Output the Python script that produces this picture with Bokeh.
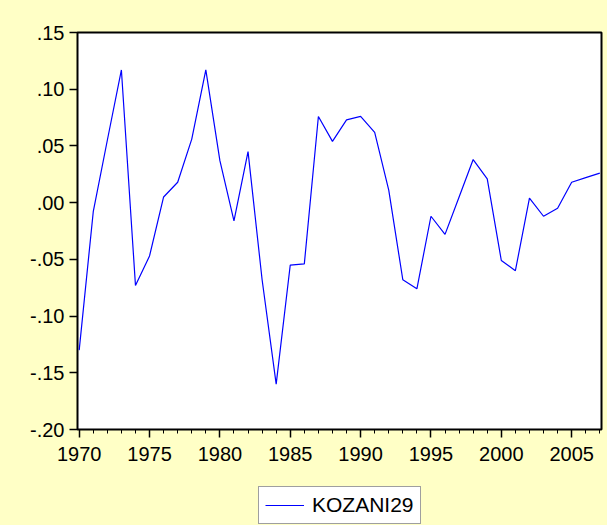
from bokeh.plotting import figure
from bokeh.layouts import column
from bokeh.models import Range1d, FixedTicker, Legend, LegendItem
from bokeh.embed import file_html
from bokeh.resources import INLINE

# ---- data ----
years = list(range(1970, 2008))
kozani29 = [-0.130, -0.008, 0.055, 0.117, -0.073, -0.047, 0.005, 0.018, 0.056, 0.117,
            0.037, -0.016, 0.045, -0.068, -0.160, -0.055, -0.054, 0.076, 0.054, 0.073,
            0.076, 0.062, 0.011, -0.068, -0.076, -0.012, -0.028, 0.005, 0.038, 0.021,
            -0.051, -0.060, 0.004, -0.012, -0.005, 0.018, 0.022, 0.026]
series_name = "KOZANI29"
xtick_values = [1970, 1975, 1980, 1985, 1990, 1995, 2000, 2005]
xminor_values = list(range(1970, 2008))
ytick_values = [-0.2, -0.15, -0.1, -0.05, 0.0, 0.05, 0.1, 0.15]
ytick_labels = ["-.20", "-.15", "-.10", "-.05", ".00", ".05", ".10", ".15"]

FONT = "Liberation Sans"
BG = "#FFFFC6"
LINE_COLOR = "#0000FF"

p = figure(width=607, height=470, output_backend="svg", toolbar_location=None,
           x_range=Range1d(1969.88, 2007.12), y_range=Range1d(-0.2, 0.15),
           min_border_left=77, min_border_right=6, min_border_top=32, min_border_bottom=41)

p.border_fill_color = BG
p.background_fill_color = "white"
p.outline_line_color = "black"
p.outline_line_width = 2
p.grid.visible = False

# x axis
xa = p.xaxis[0]
xa.ticker = FixedTicker(ticks=xtick_values, minor_ticks=xminor_values)
xa.axis_line_color = None
xa.major_tick_in = 0
xa.major_tick_out = 8
xa.minor_tick_in = 0
xa.minor_tick_out = 4
xa.major_tick_line_color = "black"
xa.minor_tick_line_color = "black"
xa.major_tick_line_width = 1.5
xa.minor_tick_line_width = 1
xa.major_label_text_font = FONT
xa.major_label_text_font_size = "20px"
xa.major_label_text_color = "black"
xa.major_label_standoff = 9

# y axis
ya = p.yaxis[0]
ya.ticker = FixedTicker(ticks=ytick_values, minor_ticks=[])
ya.major_label_overrides = {v: s for v, s in zip(ytick_values, ytick_labels)}
ya.axis_line_color = None
ya.major_tick_in = 0
ya.major_tick_out = 8
ya.minor_tick_line_color = None
ya.major_tick_line_color = "black"
ya.major_tick_line_width = 1.5
ya.major_label_text_font = FONT
ya.major_label_text_font_size = "20px"
ya.major_label_text_color = "black"
ya.major_label_standoff = 5

p.line(years, kozani29, line_color=LINE_COLOR, line_width=1.2)

# legend strip below the chart (its frame is aligned with the chart frame by the column)
p2 = figure(width=607, height=55, output_backend="svg", toolbar_location=None,
            x_axis_type=None, y_axis_type=None,
            x_range=Range1d(0, 1), y_range=Range1d(0, 1),
            min_border_left=0, min_border_right=0, min_border_top=0, min_border_bottom=0)
p2.border_fill_color = BG
p2.background_fill_color = BG
p2.outline_line_color = None
p2.grid.visible = False
proxy = p2.line([float("nan")], [float("nan")], line_color=LINE_COLOR, line_width=1.2)

legend = Legend(items=[LegendItem(label=series_name, renderers=[proxy])],
                location=(181, 1), margin=0, padding=6, spacing=0,
                glyph_width=39, glyph_height=20, label_height=20, label_standoff=8,
                label_text_font=FONT, label_text_font_size="21px", label_text_color="black",
                border_line_color="#404040", border_line_width=1,
                background_fill_color="white", background_fill_alpha=1)
p2.add_layout(legend)

layout = column(p, p2, spacing=0, styles={"background-color": BG})
open("out.html", "w").write(file_html(layout, INLINE))
